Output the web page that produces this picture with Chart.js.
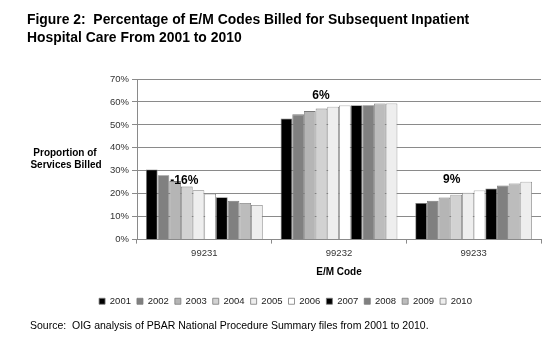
<!DOCTYPE html>
<html>
<head>
<meta charset="utf-8">
<script src="https://cdn.jsdelivr.net/npm/chart.js@4.4.1/dist/chart.umd.min.js"></script>
<style>
  body { margin: 0; background: #fff; font-family: "Liberation Sans", Arial, sans-serif; }
  #wrap { position: relative; width: 560px; height: 343px; }
  #title { position: absolute; left: 27px; top: 10px; font-weight: bold; font-size: 13.9px; line-height: 18px; color: #000; white-space: pre; }
  #source { position: absolute; left: 30px; top: 319px; font-size: 10.5px; line-height: 12px; color: #000; white-space: pre; }
  canvas { position: absolute; left: 0; top: 0; }
</style>
</head>
<body>
<div id="wrap">
  <canvas id="emChart" width="560" height="343"></canvas>
  <div id="title">Figure 2:  Percentage of E/M Codes Billed for Subsequent Inpatient
Hospital Care From 2001 to 2010</div>
  <div id="source">Source:  OIG analysis of PBAR National Procedure Summary files from 2001 to 2010.</div>
</div>
<script>
const codes = ["99231", "99232", "99233"];
const years = ["2001", "2002", "2003", "2004", "2005", "2006", "2007", "2008", "2009", "2010"];

// percent of services billed, one array per year: [99231, 99232, 99233]
const y2001 = [30.6, 52.8, 16.0];
const y2002 = [28.1, 54.6, 16.9];
const y2003 = [25.5, 56.0, 18.3];
const y2004 = [23.1, 57.1, 19.6];
const y2005 = [21.5, 57.9, 20.4];
const y2006 = [20.0, 58.5, 21.4];
const y2007 = [18.5, 58.6, 22.3];
const y2008 = [16.9, 58.6, 23.6];
const y2009 = [16.0, 59.3, 24.5];
const y2010 = [15.1, 59.3, 25.2];
const yearValues = [y2001, y2002, y2003, y2004, y2005, y2006, y2007, y2008, y2009, y2010];

const changeLabels = ["-16%", "6%", "9%"];
const yTicks = [0, 10, 20, 30, 40, 50, 60, 70];

const fills = ["#000000", "#808080", "#b5b5b5", "#d2d2d2", "#eeeeee", "#ffffff",
               "#000000", "#808080", "#bcbcbc", "#eeeeee"];

const FONT = "'Liberation Sans', Arial, sans-serif";

// horizontal y title and the change labels over each group
const extras = {
  id: "extras",
  afterDatasetsDraw(c) {
    const ctx = c.ctx;
    const area = c.chartArea;
    const x = c.scales.x, y = c.scales.y;
    ctx.save();
    ctx.fillStyle = "#000";
    ctx.textAlign = "center";
    ctx.textBaseline = "middle";
    ctx.font = "bold 10px " + FONT;
    const mid = (area.top + area.bottom) / 2;
    ctx.fillText("Proportion of", area.left - 72, mid - 6);
    ctx.fillText("Services Billed", area.left - 71, mid + 6);

    ctx.font = "bold 12px " + FONT;
    const spots = [[-20, 25.5], [-18, 62.9], [-22, 26.0]];
    changeLabels.forEach((t, i) => {
      ctx.fillText(t, x.getPixelForValue(i) + spots[i][0], y.getPixelForValue(spots[i][1]));
    });
    ctx.restore();
  }
};

new Chart(document.getElementById("emChart"), {
  type: "bar",
  data: {
    labels: codes,
    datasets: years.map((yr, i) => ({
      label: yr,
      data: yearValues[i],
      backgroundColor: fills[i],
      borderColor: "#7a7a7a",
      borderWidth: 0.8,
      barPercentage: 1,
      categoryPercentage: 0.867
    }))
  },
  options: {
    responsive: false,
    animation: false,
    layout: { padding: { left: 30, right: 19, top: 79, bottom: 27 } },
    plugins: {
      tooltip: { enabled: false },
      legend: {
        position: "bottom",
        labels: {
          boxWidth: 6,
          boxHeight: 6,
          padding: 6,
          color: "#222",
          font: { family: FONT, size: 9.5 }
        }
      }
    },
    scales: {
      x: {
        grid: { display: true, drawOnChartArea: false, drawTicks: true, tickLength: 4, color: "#8a8a8a" },
        border: { color: "#8a8a8a" },
        ticks: { padding: 4, color: "#333", font: { family: FONT, size: 9.5 } },
        title: {
          display: true,
          text: "E/M Code",
          color: "#000",
          font: { family: FONT, size: 10, weight: "bold" },
          padding: { top: 3.5, bottom: 12 }
        }
      },
      y: {
        min: 0,
        max: 70,
        afterFit: s => { s.width = 107; },
        afterBuildTicks: s => { s.ticks = yTicks.map(v => ({ value: v })); },
        grid: { color: "#8a8a8a", tickLength: 5 },
        border: { color: "#8a8a8a" },
        ticks: { padding: 3, color: "#333", font: { family: FONT, size: 9.5 }, callback: v => v + "%" }
      }
    }
  },
  plugins: [extras]
});
</script>
</body>
</html>
